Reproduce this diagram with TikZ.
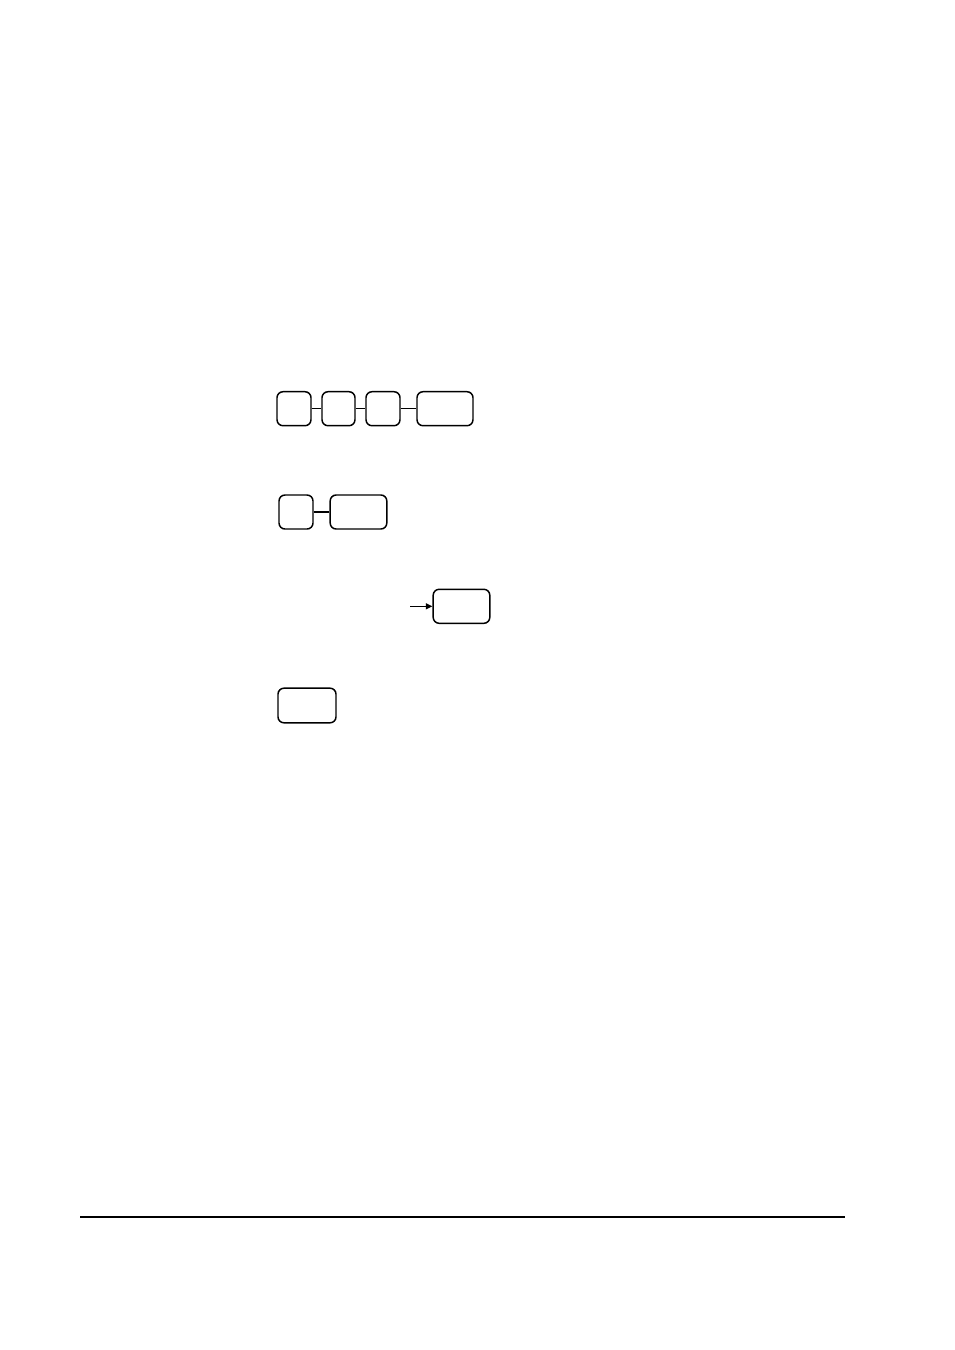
\documentclass[tikz,border=0pt]{standalone}
\usetikzlibrary{arrows.meta}
\begin{document}
\begin{tikzpicture}[x=0.75pt,y=-0.75pt,
  keybox/.style={draw,line width=1.1pt,rounded corners=4.5pt,inner sep=0pt,minimum height=25.5pt},
  conn/.style={line width=1.1pt},
  small/.style={keybox,minimum width=25.5pt},
  wide/.style={keybox,minimum width=42.5pt}]
\useasboundingbox (0,0) rectangle (954,1350);
% row 1
\node[small] (a) at (294,408.7) {};
\node[small,minimum width=24.75pt] (b) at (338.5,408.7) {};
\node[small] (c) at (383,408.7) {};
\node[wide,minimum width=42pt] (d) at (445,408.7) {};
\draw[conn] (a) -- (b);
\draw[conn] (b) -- (c);
\draw[conn] (c) -- (d);
% row 2
\node[small] (e) at (296,512) {};
\node[wide] (f) at (358.5,512) {};
\draw[conn] (e) -- (f);
% row 3
\coordinate (s) at (410,606.3);
\node[wide] (g) at (461.5,606.3) {};
\draw[conn,-{Triangle[length=5pt,width=4.5pt]}] (s) -- (g);
% row 4
\node[wide,minimum width=43.5pt,minimum height=26pt] (h) at (307,705.5) {};
% footer rule
\coordinate (l1) at (80,1217);
\coordinate (l2) at (845,1217);
\draw[line width=0.9pt] (l1) -- (l2);
\end{tikzpicture}
\end{document}
